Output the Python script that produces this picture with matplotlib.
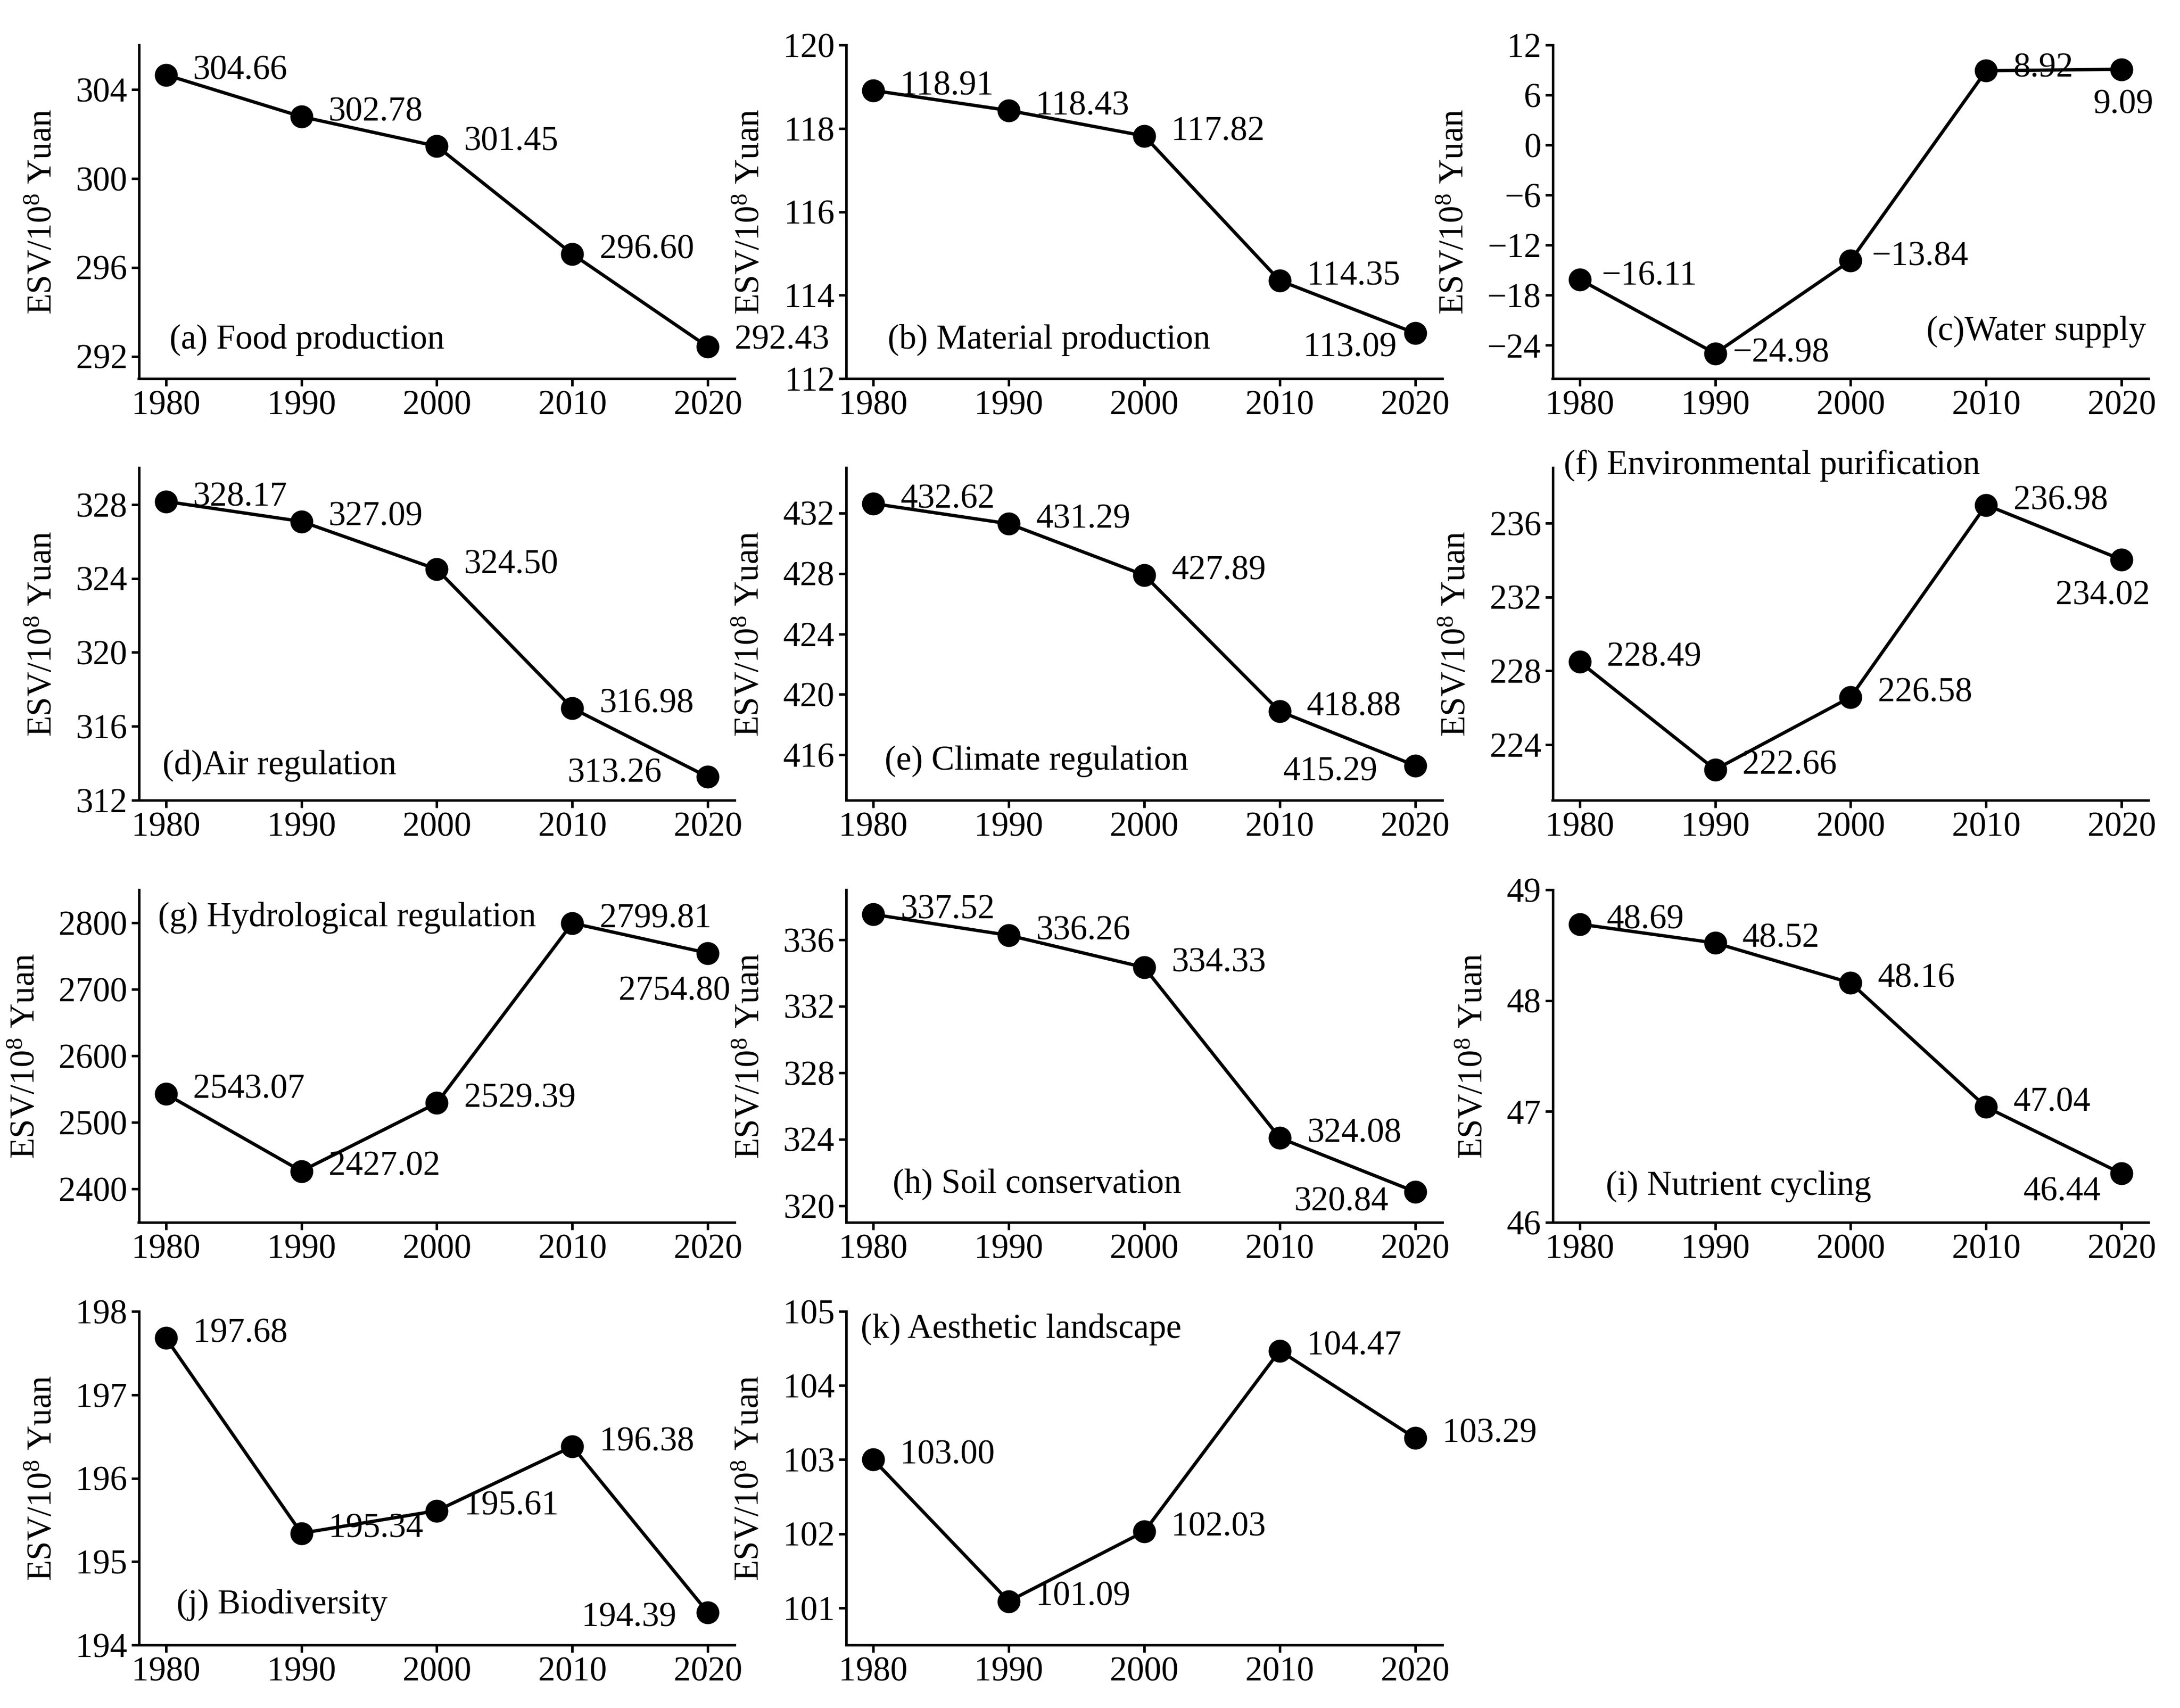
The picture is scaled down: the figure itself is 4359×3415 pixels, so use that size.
import matplotlib
matplotlib.use("Agg")
import matplotlib.pyplot as plt

plt.rcParams["font.family"] = ["Liberation Serif", "DejaVu Serif"]
plt.rcParams["mathtext.fontset"] = "custom"
plt.rcParams["mathtext.rm"] = "Liberation Serif"
plt.rcParams["mathtext.it"] = "Liberation Serif:italic"
plt.rcParams["font.size"] = 16
plt.rcParams["axes.linewidth"] = 1.2

# ---------------- data ----------------
YEARS = [1980, 1990, 2000, 2010, 2020]

FOOD = [304.66, 302.78, 301.45, 296.60, 292.43]
MATERIAL = [118.91, 118.43, 117.82, 114.35, 113.09]
WATER = [-16.11, -24.98, -13.84, 8.92, 9.09]
AIR = [328.17, 327.09, 324.50, 316.98, 313.26]
CLIMATE = [432.62, 431.29, 427.89, 418.88, 415.29]
PURIFY = [228.49, 222.66, 226.58, 236.98, 234.02]
HYDRO = [2543.07, 2427.02, 2529.39, 2799.81, 2754.80]
SOIL = [337.52, 336.26, 334.33, 324.08, 320.84]
NUTRIENT = [48.69, 48.52, 48.16, 47.04, 46.44]
BIODIV = [197.68, 195.34, 195.61, 196.38, 194.39]
AESTHETIC = [103.00, 101.09, 102.03, 104.47, 103.29]

SERIES = [FOOD, MATERIAL, WATER, AIR, CLIMATE, PURIFY,
          HYDRO, SOIL, NUTRIENT, BIODIV, AESTHETIC]

PANEL_LABELS = ["(a) Food production", "(b) Material production",
                "(c)Water supply", "(d)Air regulation",
                "(e) Climate regulation", "(f) Environmental purification",
                "(g) Hydrological regulation", "(h) Soil conservation",
                "(i) Nutrient cycling", "(j) Biodiversity",
                "(k) Aesthetic landscape"]

Y_LIMITS = [(291, 306), (112, 120), (-28, 12), (312, 330), (413, 435),
            (221, 239), (2350, 2850), (319, 339), (46, 49), (194, 198),
            (100.5, 105)]
Y_TICKS = [[292, 296, 300, 304], [112, 114, 116, 118, 120],
           [-24, -18, -12, -6, 0, 6, 12], [312, 316, 320, 324, 328],
           [416, 420, 424, 428, 432], [224, 228, 232, 236],
           [2400, 2500, 2600, 2700, 2800], [320, 324, 328, 332, 336],
           [46, 47, 48, 49], [194, 195, 196, 197, 198],
           [101, 102, 103, 104, 105]]

# ---------------- layout ----------------
W, H = 4359, 3415
COL_LEFT = [277.5, 1692, 3104.5]
AX_W = 1192
ROW_TOP = [90, 935, 1779, 2622]
ROW_BOT = [757, 1600, 2444, 3289]

# panel label position (axes fraction), alignment
LABEL_POS = [(0.052, 0.115, "left"), (0.070, 0.115, "left"),
             (0.995, 0.141, "right"), (0.040, 0.104, "left"),
             (0.065, 0.117, "left"), (0.019, 1.006, "left"),
             (0.032, 0.916, "left"), (0.078, 0.114, "left"),
             (0.089, 0.108, "left"), (0.063, 0.120, "left"),
             (0.024, 0.946, "left")]

DEFAULT_OFF = (13, 2, "left")
# special value-label offsets (points): {panel: {point index: (dx, dy, ha)}}
SPECIAL_OFF = {
    0: {4: (13, 3, "left")},
    1: {4: (-9, -7, "right")},
    2: {0: (10.5, 1.5, "left"), 1: (8.5, 0, "left"), 2: (10, 1.7, "left"),
        3: (13, 1, "left"), 4: (1, -17, "center")},
    3: {4: (-22, 1.5, "right")},
    4: {4: (-18, -3, "right")},
    5: {4: (-9, -17.5, "center")},
    6: {4: (-16, -18.5, "center")},
    7: {4: (-12.7, -5, "right")},
    8: {4: (-10, -9, "right")},
    9: {4: (-15, -2.6, "right")},
}


def fmt(v):
    s = f"{abs(v):.2f}"
    return ("\u2212" + s) if v < 0 else s


fig = plt.figure(figsize=(W / 300, H / 300), dpi=300)

for i, vals in enumerate(SERIES):
    r, c = divmod(i, 3)
    left = COL_LEFT[c] / W
    bottom = 1 - ROW_BOT[r] / H
    height = (ROW_BOT[r] - ROW_TOP[r]) / H
    ax = fig.add_axes([left, bottom, AX_W / W, height])

    ax.plot(YEARS, vals, color="black", linewidth=1.6, marker="o",
            markersize=10, markerfacecolor="black", markeredgecolor="black",
            clip_on=False, zorder=3)

    for j, (x, y) in enumerate(zip(YEARS, vals)):
        dx, dy, ha = SPECIAL_OFF.get(i, {}).get(j, DEFAULT_OFF)
        ax.annotate(fmt(y), xy=(x, y), xytext=(dx, dy),
                    textcoords="offset points", ha=ha, va="center",
                    fontsize=16.5, zorder=4)

    lx, ly, lha = LABEL_POS[i]
    ax.text(lx, ly, PANEL_LABELS[i], transform=ax.transAxes, ha=lha,
            va="center", fontsize=16.5, clip_on=False)

    ax.set_xlim(1978, 2022)
    ax.set_xticks(YEARS)
    ax.set_ylim(*Y_LIMITS[i])
    ax.set_yticks(Y_TICKS[i])
    ax.spines["top"].set_visible(False)
    ax.spines["right"].set_visible(False)
    ax.tick_params(direction="out", length=3.5, width=1.2, pad=2,
                   labelsize=16.5)
    ax.set_ylabel(r"ESV/10$^{8}$ Yuan", fontsize=16.5, labelpad=8)

fig.savefig("out.png", dpi=300, facecolor="white")
